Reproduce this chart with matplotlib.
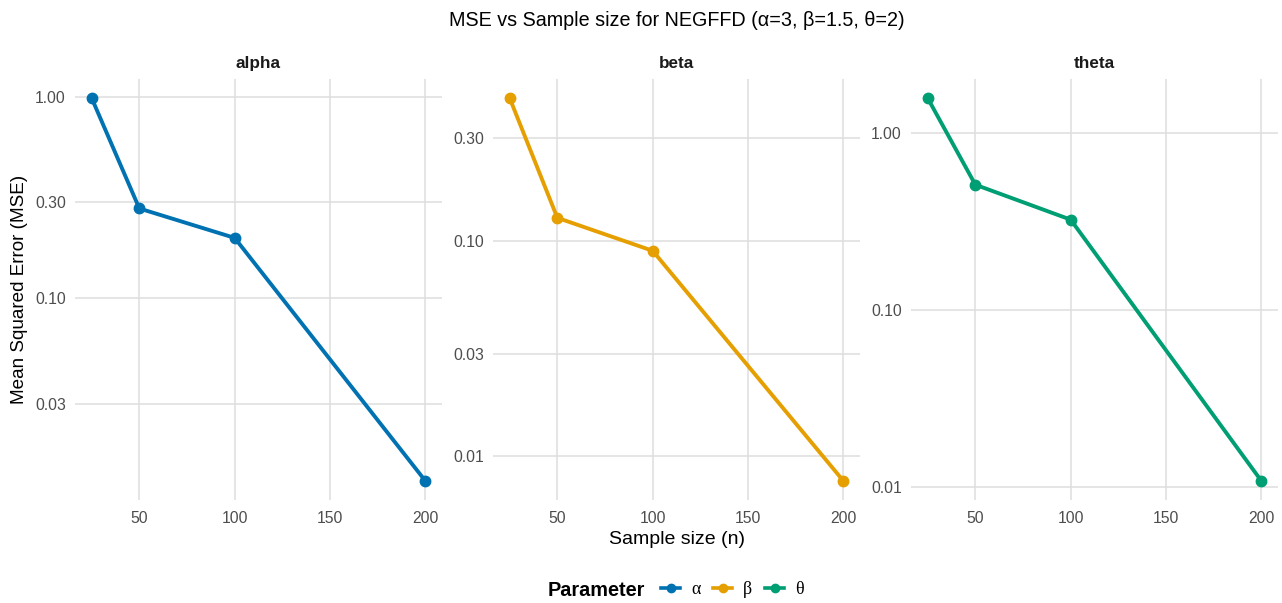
import matplotlib
matplotlib.use("Agg")
import matplotlib.pyplot as plt
from matplotlib.lines import Line2D
import numpy as np

plt.rcParams['font.family'] = ['Liberation Sans', 'DejaVu Sans']

n = [25, 50, 100, 200]
mse_alpha = [0.99, 0.28, 0.20, 0.0124]
mse_beta = [0.46, 0.128, 0.090, 0.0077]
mse_theta = [1.57, 0.51, 0.324, 0.0109]

panels = ["alpha", "beta", "theta"]
symbols = ["α", "β", "θ"]
colors = ["#0072B2", "#E69F00", "#009E73"]
yticks = [[0.03, 0.10, 0.30, 1.00], [0.01, 0.03, 0.10, 0.30], [0.01, 0.10, 1.00]]
xticks = [50, 100, 150, 200]
series = [mse_alpha, mse_beta, mse_theta]

W, H = 1282, 603
fig = plt.figure(figsize=(W / 100, H / 100), dpi=100)

lefts = [75, 493, 911]
pw = 367
top, bottom = 79, 500
grid_c = "#DEDEDE"
for i, name in enumerate(panels):
    ax = fig.add_axes([lefts[i] / W, 1 - bottom / H, pw / W, (bottom - top) / H])
    ax.set_yscale('log')
    ax.plot(n, series[i], color=colors[i], lw=2.8, marker='o', ms=7.5, zorder=3)
    ax.margins(x=0.05, y=0.05)
    ax.set_yticks(yticks[i])
    ax.set_yticklabels([f"{v:.2f}" for v in yticks[i]])
    ax.minorticks_off()
    ax.set_xticks(xticks)
    ax.set_xticklabels([str(v) for v in xticks])
    ax.grid(True, color=grid_c, lw=1.1)
    ax.set_axisbelow(True)
    for s in ax.spines.values():
        s.set_visible(False)
    ax.tick_params(length=0, labelsize=11.3, colors="#4D4D4D")
    ax.tick_params(axis='y', pad=6.5)
    ax.tick_params(axis='x', pad=8)
    ax.set_title(name, fontsize=12.3, fontweight='bold', color="#1A1A1A", pad=8)
    if i == 0:
        ax.set_ylabel("Mean Squared Error (MSE)", fontsize=13.6, color="black", labelpad=5)

fig.text(676.5 / W, 1 - 20 / H, "MSE vs Sample size for NEGFFD (α=3, β=1.5, θ=2)",
         ha='center', va='center', fontsize=14.2)
fig.text((493 + pw / 2) / W, 1 - 539 / H, "Sample size (n)", ha='center', va='center', fontsize=14)

fig.text(548 / W, 1 - 591 / H, "Parameter", ha='left', va='center', fontsize=14.3, fontweight='bold')
handles = [Line2D([0], [0], color=c, lw=2.6, marker='o', ms=6) for c in colors]
leg = fig.legend(handles, symbols, loc='center left', bbox_to_anchor=(645 / W, 1 - 590 / H),
                 ncol=3, frameon=False, handlelength=1.05, handletextpad=0.6, columnspacing=0.72,
                 borderpad=0.4,
                 prop={'family': ['Liberation Serif', 'DejaVu Serif'], 'size': 13})

fig.savefig("out.png", dpi=100, facecolor='white')
